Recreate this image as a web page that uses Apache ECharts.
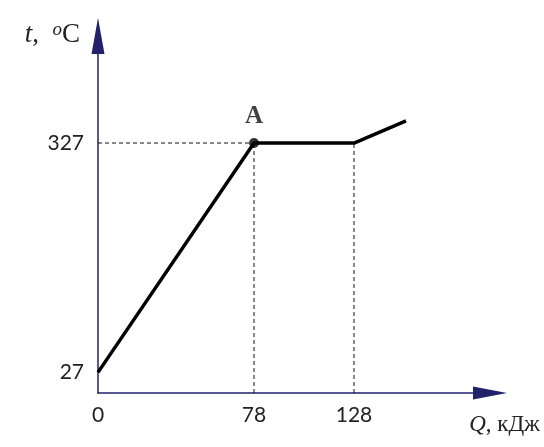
<!DOCTYPE html>
<html>
<head>
<meta charset="utf-8">
<script src="https://cdn.jsdelivr.net/npm/echarts@6/dist/echarts.min.js"></script>
<style>
  html, body { margin: 0; padding: 0; background: #fff; }
  #chart { width: 544px; height: 447px; }
</style>
</head>
<body>
<div id="chart"></div>
<script>
// heating curve: Q (kJ) vs t (°C)
const curveQ = [0, 78, 128, 154]
const curveT = [27, 327, 327, 356]
const pointA = [78, 327]
const xTicks = [0, 78, 128]
const yTicks = [27, 327]

const chart = echarts.init(document.getElementById('chart'))
const axisColor = '#22226a'
const labelFont = { fontFamily: 'Lato', fontSize: 21, color: '#222' }

const dash = (pts) => ({
  type: 'line',
  data: pts,
  symbol: 'none',
  silent: true,
  lineStyle: { color: '#111', width: 1, type: [4, 3] },
  z: 1
})

const opt = {
  animation: false,
  grid: { left: 98, right: 54, top: 36, bottom: 54 },
  xAxis: {
    type: 'value',
    min: 0,
    max: 196,
    splitLine: { show: false },
    axisTick: { show: false },
    axisLine: {
      lineStyle: { color: axisColor, width: 1.5 },
      symbol: ['none', 'triangle'],
      symbolSize: [13, 34]
    },
    axisLabel: { customValues: xTicks, margin: 12, ...labelFont },
    name: '{i|Q}, кДж',
    nameLocation: 'end',
    nameGap: 50,
    nameTextStyle: {
      align: 'right',
      verticalAlign: 'top',
      padding: [20, 0, 0, 0],
      fontFamily: 'Liberation Serif',
      fontSize: 23,
      color: '#222',
      rich: { i: { fontFamily: 'Liberation Serif', fontStyle: 'italic', fontSize: 23, color: '#222' } }
    }
  },
  yAxis: {
    type: 'value',
    min: 0,
    max: 467,
    splitLine: { show: false },
    axisTick: { show: false },
    axisLine: {
      lineStyle: { color: axisColor, width: 1.5 },
      symbol: ['none', 'triangle'],
      symbolSize: [13, 36]
    },
    axisLabel: { customValues: yTicks, margin: 14, ...labelFont },
    name: '{i|t},  {s|o}C',
    nameLocation: 'end',
    nameGap: 16,
    nameTextStyle: {
      align: 'right',
      verticalAlign: 'top',
      padding: [0, 18, 0, 0],
      fontFamily: 'Liberation Serif',
      fontSize: 27,
      color: '#222',
      rich: {
        i: { fontFamily: 'Liberation Serif', fontStyle: 'italic', fontSize: 27, color: '#222' },
        s: { fontFamily: 'Liberation Serif', fontStyle: 'italic', fontSize: 19, color: '#222', verticalAlign: 'top', padding: [0, 0, 10, 0] }
      }
    }
  },
  series: [
    dash([[0, curveT[1]], [curveQ[1], curveT[1]]]),
    dash([[curveQ[1], 0], [curveQ[1], curveT[1]]]),
    dash([[curveQ[2], 0], [curveQ[2], curveT[2]]]),
    {
      type: 'line',
      data: curveQ.map((q, i) => [q, curveT[i]]),
      symbol: 'none',
      lineStyle: { color: '#000', width: 3.5 },
      z: 3
    },
    {
      type: 'scatter',
      data: [pointA],
      symbol: 'circle',
      symbolSize: 10,
      itemStyle: { color: '#000' },
      label: {
        show: true,
        position: 'top',
        distance: 9,
        formatter: 'A',
        fontFamily: 'Liberation Serif',
        fontWeight: 'bold',
        fontSize: 25,
        color: '#111'
      },
      z: 4
    }
  ]
}
chart.setOption(opt)
</script>
</body>
</html>
